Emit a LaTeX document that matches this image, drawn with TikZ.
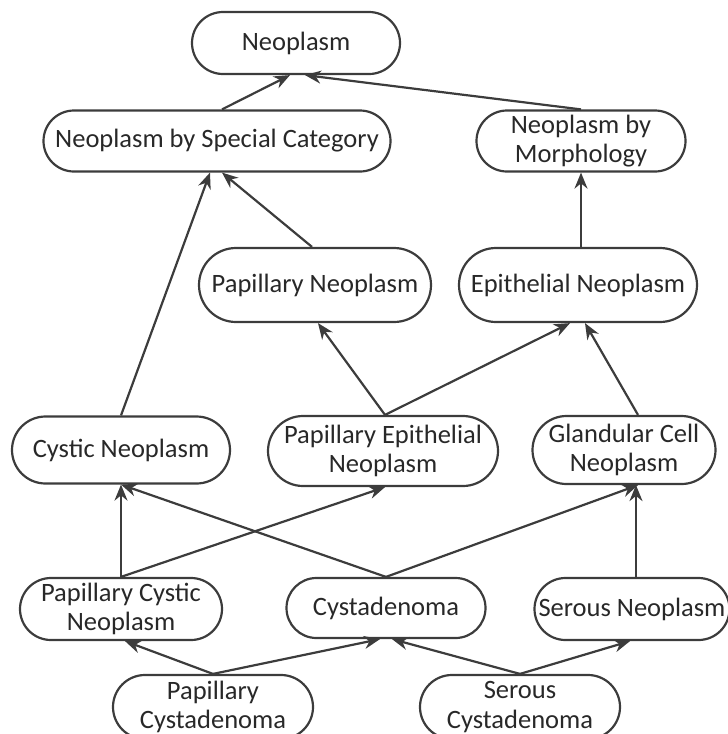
\documentclass[tikz,border=0pt]{standalone}
\usepackage{fontspec}
\setmainfont{Carlito}
\usetikzlibrary{shapes.misc,arrows.meta,calc}
\definecolor{linegray}{RGB}{60,60,60}
\definecolor{textgray}{RGB}{40,40,40}
\begin{document}
\begin{tikzpicture}[x=1pt,y=1pt,
  box/.style={draw=linegray, line width=2.2pt, rounded rectangle, align=center,
    font=\fontsize{26.5}{29.5}\selectfont, text=textgray, inner sep=0pt},
  link/.style={draw=linegray, line width=2.2pt, -{Stealth[length=16pt,width=13pt]}}]
\clip (0,0) rectangle (728,-734);

% concept nodes
\node[box, minimum width=208pt, minimum height=62pt] (neo)   at (296,-43)  {Neoplasm};
\node[box, minimum width=347pt, minimum height=61pt] (spc)   at (217,-141) {Neoplasm by Special Category};
\node[box, minimum width=209pt, minimum height=61pt] (morph) at (581,-141) {Neoplasm by\\Morphology};
\node[box, minimum width=232pt, minimum height=74pt] (pap)   at (315,-285) {Papillary Neoplasm};
\node[box, minimum width=238pt, minimum height=74pt] (epi)   at (578,-285) {Epithelial Neoplasm};
\node[box, minimum width=218pt, minimum height=67pt] (cyst)  at (121,-450) {Cystic Neoplasm};
\node[box, minimum width=230pt, minimum height=70pt] (pepi)  at (383,-451) {Papillary Epithelial\\Neoplasm};
\node[box, minimum width=183pt, minimum height=68pt] (gland) at (624,-450) {Glandular Cell\\Neoplasm};
\node[box, minimum width=202pt, minimum height=62pt] (pcyst) at (121,-609) {Papillary Cystic\\Neoplasm};
\node[box, minimum width=199pt, minimum height=60pt] (cad)   at (386,-608) {Cystadenoma};
\node[box, minimum width=195pt, minimum height=62pt] (serN)  at (632,-609) {Serous Neoplasm};
\node[box, minimum width=200pt, minimum height=64pt] (pcad)  at (213,-707) {Papillary\\Cystadenoma};
\node[box, minimum width=200pt, minimum height=64pt] (scad)  at (520,-707) {Serous\\Cystadenoma};

% is-a links (child -> parent)
\draw[link] ([xshift=5pt]spc.north) -- ([xshift=-6pt]neo.south);
\draw[link] (morph.north) -- ([xshift=9pt]neo.south);
\draw[link] (epi.north -| morph.south) -- (morph.south);
\draw[link] ([xshift=-3pt]pap.north) -- ([xshift=5pt]spc.south);
\draw[link] (cyst.north) -- ([xshift=-7pt]spc.south);
\draw[link] ([xshift=2pt]pepi.north) -- ([xshift=3pt]pap.south);
\draw[link] ([xshift=2pt]pepi.north) -- ([xshift=-8pt]epi.south);
\draw[link] ([xshift=14pt]gland.north) -- ([xshift=7pt]epi.south);
\draw[link] (pcyst.north) -- (cyst.south);
\draw[link] (pcyst.north) -- ([xshift=2pt]pepi.south);
\draw[link] (cad.north) -- (cyst.south);
\draw[link] (cad.north) -- ([xshift=14pt]gland.south);
\draw[link] ([xshift=4pt]serN.north) -- ([xshift=12pt]gland.south);
\draw[link] (pcad.north) -- ([xshift=4pt]pcyst.south);
\draw[link] (pcad.north) -- ([xshift=-6pt]cad.south);
\draw[link] (scad.north) -- ([xshift=6pt]cad.south);
\draw[link] (scad.north) -- ([xshift=-2pt]serN.south);
\end{tikzpicture}
\end{document}
